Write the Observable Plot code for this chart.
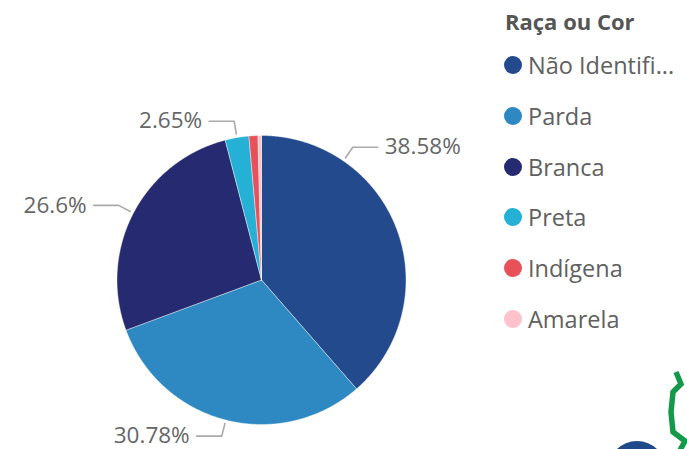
<!DOCTYPE html>
<html><head><meta charset="utf-8">
<script src="https://cdn.jsdelivr.net/npm/d3@7"></script>
<script src="https://cdn.jsdelivr.net/npm/@observablehq/plot@0.6"></script>
<style>
body{margin:0;background:#fff;}
#wrap{position:relative;width:687px;height:449px;overflow:hidden;font-family:"Open Sans",sans-serif;}
#chart{position:absolute;left:0;top:0;}
#legend{position:absolute;left:0;top:0;}
.ltitle{position:absolute;left:505px;top:6px;font-weight:700;font-size:22px;color:#555;white-space:nowrap;}
.litem{position:absolute;left:504px;height:30px;display:flex;align-items:center;white-space:nowrap;font-size:23.5px;color:#606060;}
.lsw{width:18px;height:18px;border-radius:50%;margin-right:6px;flex:none;}
#deco{position:absolute;left:0;top:0;pointer-events:none;}
</style></head><body>
<div id="wrap"><div id="chart"></div><div id="legend"></div>
<svg id="deco" width="687" height="449"><circle cx="637" cy="470" r="29" fill="#1f4a8a"/><path d="M676,372 L681,384 L673,392 L671,412 L673,432 L685,441 L679,452" fill="none" stroke="#13994a" stroke-width="5.5" stroke-linejoin="miter"/></svg>
</div>
<script>
const categories = ["Não Identificado", "Parda", "Branca", "Preta", "Indígena", "Amarela"];
const legendLabels = ["Não Identifi...", "Parda", "Branca", "Preta", "Indígena", "Amarela"];
const percentages = [38.58, 30.78, 26.6, 2.65, 1.0, 0.39];
const legendTitle = "Raça ou Cor";
const palette = ["#234A8C", "#2E89C3", "#262A70", "#25B1D5", "#E8505A", "#FFC1CC"];

const W = 687, H = 449, R = 144.5, cx = 261, cy = 279.5;
const total = d3.sum(percentages);
let acc = 0;
const slices = categories.map((c, i) => {
  const a0 = acc / total * 2 * Math.PI; acc += percentages[i];
  const a1 = acc / total * 2 * Math.PI;
  return {category: c, value: percentages[i], a0, a1};
});
const pts = [];
for (const s of slices) {
  pts.push({category: s.category, x: 0, y: 0});
  const n = Math.max(2, Math.ceil((s.a1 - s.a0) / 0.005));
  for (let k = 0; k <= n; k++) {
    const a = s.a0 + (s.a1 - s.a0) * k / n;
    pts.push({category: s.category, x: Math.sin(a), y: Math.cos(a)});
  }
  pts.push({category: s.category, x: 0, y: 0});
}
// label layout: Power BI shifts the largest slice's label toward the top
const labelAngle = {"Não Identificado": 34.5 * Math.PI / 180};
const labelled = slices.filter(s => s.value >= 2);
const leaders = [], labels = [];
const hLen = 25 / R, gap = 7 / R;
for (const s of labelled) {
  const a = labelAngle[s.category] ?? (s.a0 + s.a1) / 2;
  const right = Math.sin(a) >= 0;
  const r0 = 1.025, r1 = 1.115;
  const ex = r1 * Math.sin(a), ey = r1 * Math.cos(a);
  const endX = ex + (right ? hLen : -hLen);
  leaders.push({id: s.category, x: r0 * Math.sin(a), y: r0 * Math.cos(a)});
  leaders.push({id: s.category, x: ex, y: ey});
  leaders.push({id: s.category, x: endX, y: ey});
  labels.push({x: endX + (right ? gap : -gap), y: ey, text: `${s.value}%`, right});
}
const textOpts = {x: "x", y: "y", text: "text", fill: "#666", fontSize: 22.5, fontFamily: "Open Sans", fontWeight: 400};
const plot = Plot.plot({
  width: W, height: H, margin: 0,
  x: {domain: [-cx / R, (W - cx) / R], axis: null},
  y: {domain: [-(H - cy) / R, cy / R], axis: null},
  color: {domain: categories, range: palette},
  marks: [
    Plot.line(pts, {x: "x", y: "y", z: "category", fill: "category", stroke: "white", strokeWidth: 0.6, strokeOpacity: 0.7}),
    Plot.line(leaders, {x: "x", y: "y", z: "id", stroke: "#aaa", strokeWidth: 1.6}),
    Plot.text(labels.filter(d => d.right), {...textOpts, textAnchor: "start"}),
    Plot.text(labels.filter(d => !d.right), {...textOpts, textAnchor: "end"})
  ]
});
document.getElementById("chart").append(plot);

const leg = document.getElementById("legend");
const t = document.createElement("div"); t.className = "ltitle"; t.textContent = legendTitle; leg.append(t);
const ys = [65, 115.5, 166.5, 217, 267.5, 318.5];
categories.forEach((c, i) => {
  const it = document.createElement("div"); it.className = "litem"; it.style.top = (ys[i] - 15) + "px";
  const sw = document.createElement("span"); sw.className = "lsw"; sw.style.background = palette[i];
  const tx = document.createElement("span"); tx.textContent = legendLabels[i];
  it.append(sw, tx); leg.append(it);
});
</script>
</body></html>
